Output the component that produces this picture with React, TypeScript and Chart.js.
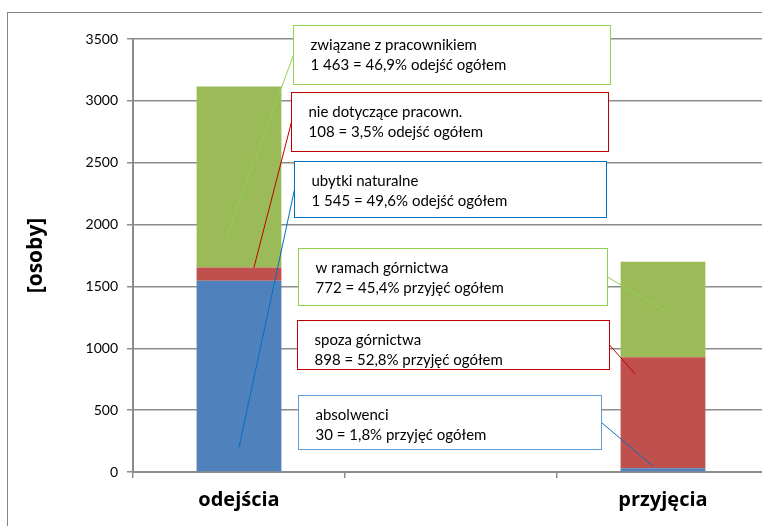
import React, { useEffect, useRef } from 'react';
import { Chart, registerables } from 'chart.js';

Chart.register(...registerables);

// ---- data ----
const categories = ['odejścia', '', 'przyjęcia'];
const seriesNames = ['ubytki naturalne / absolwenci', 'nie dotyczące pracown. / spoza górnictwa', 'związane z pracownikiem / w ramach górnictwa'];
const blueValues = [1545, null, 30];
const redValues = [108, null, 898];
const greenValues = [1463, null, 772];
const yTickValues = [0, 500, 1000, 1500, 2000, 2500, 3000, 3500];
const yAxisTitle = '[osoby]';

const noteTitles = [
  'związane z pracownikiem',
  'nie dotyczące pracown.',
  'ubytki naturalne',
  'w ramach górnictwa',
  'spoza górnictwa',
  'absolwenci',
];
const noteValues = [
  '1 463 = 46,9% odejść ogółem',
  '108 = 3,5% odejść ogółem',
  '1 545 = 49,6% odejść ogółem',
  '772 = 45,4% przyjęć ogółem',
  '898 = 52,8% przyjęć ogółem',
  '30 = 1,8% przyjęć ogółem',
];

// ---- annotation layout (category index units / value units) ----
const noteLayout = [
  { x0: 0.255, x1: 1.75, y0: 3136, y1: 3613, side: 'left', tx: -0.06, ty: 1900, border: '#92D050', line: '#92D050' },
  { x0: 0.245, x1: 1.741, y0: 2595, y1: 3072, side: 'left', tx: 0.07, ty: 1650, border: '#C00000', line: '#C00000' },
  { x0: 0.259, x1: 1.731, y0: 2061, y1: 2514, side: 'left', tx: 0.0, ty: 200, border: '#0070C0', line: '#0070C0' },
  { x0: 0.278, x1: 1.736, y0: 1350, y1: 1811, side: 'right', tx: 2.01, ty: 1300, border: '#92D050', line: '#92D050' },
  { x0: 0.274, x1: 1.745, y0: 833, y1: 1229, side: 'right', tx: 1.87, ty: 790, border: '#C00000', line: '#C00000' },
  { x0: 0.278, x1: 1.708, y0: 186, y1: 622, side: 'right', tx: 1.95, ty: 50, border: '#5B9BD5', line: '#0070C0' },
];

const FONT = 'Lato, "Open Sans", sans-serif';
const BOLD_FONT = '"Open Sans", Lato, sans-serif';

const notesPlugin = {
  id: 'notes',
  beforeDraw(chart: any) {
    const ctx = chart.ctx;
    ctx.save();
    ctx.fillStyle = '#ffffff';
    ctx.fillRect(0, 0, chart.width, chart.height);
    ctx.strokeStyle = '#868686';
    ctx.lineWidth = 1;
    ctx.strokeRect(7.5, 12.5, chart.width, chart.height);
    ctx.restore();
  },
  afterDatasetsDraw(chart: any) {
    const ctx = chart.ctx;
    const xs = chart.scales.x;
    const ys = chart.scales.y;
    ctx.save();
    noteLayout.forEach((n, i) => {
      const L = Math.round(xs.getPixelForValue(n.x0)) + 0.5;
      const R = Math.round(xs.getPixelForValue(n.x1)) + 0.5;
      const T = Math.round(ys.getPixelForValue(n.y1)) + 0.5;
      const B = Math.round(ys.getPixelForValue(n.y0)) + 0.5;
      const sx = n.side === 'left' ? L : R;
      const sy = (T + B) / 2;
      const tx = xs.getPixelForValue(n.tx);
      const ty = ys.getPixelForValue(n.ty);
      ctx.strokeStyle = n.line;
      ctx.lineWidth = 1;
      ctx.beginPath();
      ctx.moveTo(sx, sy);
      ctx.lineTo(tx, ty);
      ctx.stroke();

      ctx.fillStyle = '#ffffff';
      ctx.fillRect(L, T, R - L, B - T);
      ctx.strokeStyle = n.border;
      ctx.strokeRect(L, T, R - L, B - T);

      ctx.fillStyle = '#000000';
      ctx.font = `15px ${FONT}`;
      ctx.textAlign = 'left';
      ctx.textBaseline = 'middle';
      ctx.fillText(noteTitles[i], L + 17, T + 20);
      ctx.fillText(noteValues[i], L + 17, T + 40);
    });
    ctx.restore();
  },
};

export default function App() {
  const canvasRef = useRef<HTMLCanvasElement | null>(null);

  useEffect(() => {
    if (!canvasRef.current) return;
    const chart = new Chart(canvasRef.current, {
      type: 'bar',
      data: {
        labels: categories,
        datasets: [
          { label: seriesNames[0], data: blueValues, backgroundColor: '#4F81BD' },
          { label: seriesNames[1], data: redValues, backgroundColor: '#C0504D' },
          { label: seriesNames[2], data: greenValues, backgroundColor: '#9BBB59' },
        ],
      },
      options: {
        animation: false,
        responsive: true,
        maintainAspectRatio: false,
        layout: { padding: { left: 0, top: 39, right: 31, bottom: 0 } },
        datasets: { bar: { categoryPercentage: 1, barPercentage: 0.4 } },
        plugins: {
          legend: { display: false },
          tooltip: { enabled: false },
          title: { display: false },
        },
        scales: {
          x: {
            stacked: true,
            offset: true,
            grid: {
              display: true,
              drawOnChartArea: false,
              drawTicks: true,
              tickLength: 6,
              color: '#8c8c8c',
              lineWidth: 1.5,
              offset: true,
            },
            border: { display: true, color: '#8c8c8c', width: 2 },
            ticks: {
              color: '#000000',
              font: { family: BOLD_FONT, size: 20, weight: 'bold' },
              padding: 10,
              maxRotation: 0,
              autoSkip: false,
            },
            afterFit(s: any) {
              s.height = 68;
              s.paddingLeft = 0;
              s.paddingRight = 0;
            },
          },
          y: {
            stacked: true,
            min: 0,
            max: 3500,
            afterBuildTicks(s: any) {
              s.ticks = yTickValues.map((v) => ({ value: v }));
            },
            grid: {
              color: '#8c8c8c',
              lineWidth: 1.5,
              tickLength: 6,
              drawTicks: true,
            },
            border: { display: true, color: '#8c8c8c', width: 2 },
            ticks: {
              color: '#000000',
              font: { family: FONT, size: 14 },
              padding: 9,
              callback: (v: any) => String(v),
            },
            title: {
              display: true,
              text: yAxisTitle,
              color: '#000000',
              font: { family: BOLD_FONT, size: 21, weight: 'bold' },
              padding: { top: 23, bottom: 0 },
            },
            afterFit(s: any) {
              s.width = 133;
              s.paddingTop = 0;
              s.paddingBottom = 0;
            },
          },
        },
      },
      plugins: [notesPlugin],
    });
    return () => chart.destroy();
  }, []);

  return (
    <div style={{ position: 'fixed', left: 0, top: 0, width: 800, height: 540, overflow: 'hidden' }}>
      <canvas ref={canvasRef} />
    </div>
  );
}
